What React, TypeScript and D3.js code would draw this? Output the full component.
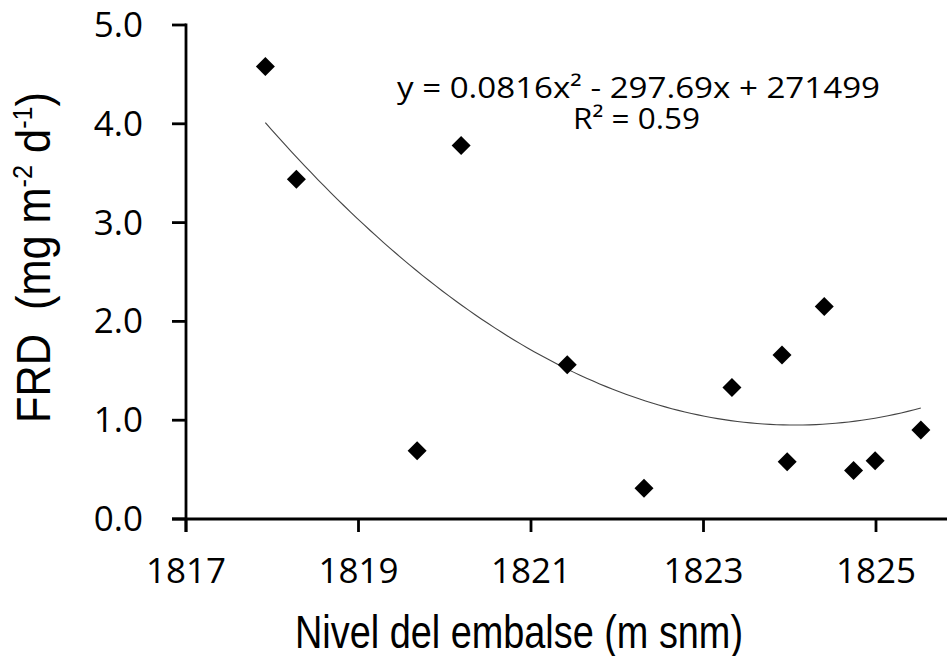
import React from "react";
import * as d3 from "d3";

const nivel: number[] = [1817.92, 1818.28, 1819.68, 1820.19, 1821.42, 1822.31, 1823.33, 1823.91, 1823.97, 1824.40, 1824.74, 1824.99, 1825.52];
const frd: number[] = [4.58, 3.44, 0.69, 3.78, 1.56, 0.31, 1.33, 1.66, 0.58, 2.15, 0.49, 0.59, 0.90];
const xTicks: number[] = [1817, 1819, 1821, 1823, 1825];
const yTicks: number[] = [0, 1, 2, 3, 4, 5];
const equationLabel = "y = 0.0816x² - 297.69x + 271499";
const r2Label = "R² = 0.59";

// least squares quadratic fit (like a spreadsheet trendline)
function quadFit(xs: number[], ys: number[]) {
  const mx = d3.mean(xs) as number;
  const u = xs.map((v) => v - mx);
  const n = xs.length;
  let s1 = 0, s2 = 0, s3 = 0, s4 = 0, t0 = 0, t1 = 0, t2 = 0;
  for (let i = 0; i < n; i++) {
    const a = u[i];
    s1 += a; s2 += a * a; s3 += a * a * a; s4 += a * a * a * a;
    t0 += ys[i]; t1 += a * ys[i]; t2 += a * a * ys[i];
  }
  const M = [
    [n, s1, s2, t0],
    [s1, s2, s3, t1],
    [s2, s3, s4, t2],
  ];
  for (let c = 0; c < 3; c++) {
    let p = c;
    for (let r = c + 1; r < 3; r++) if (Math.abs(M[r][c]) > Math.abs(M[p][c])) p = r;
    [M[c], M[p]] = [M[p], M[c]];
    for (let r = 0; r < 3; r++) {
      if (r === c) continue;
      const f = M[r][c] / M[c][c];
      for (let k = c; k < 4; k++) M[r][k] -= f * M[c][k];
    }
  }
  const c0 = M[0][3] / M[0][0];
  const c1 = M[1][3] / M[1][1];
  const c2 = M[2][3] / M[2][2];
  return (x: number) => {
    const a = x - mx;
    return c0 + c1 * a + c2 * a * a;
  };
}

export default function App() {
  const W = 948, H = 656;
  const x0 = 186, y0 = 519;
  const x = d3.scaleLinear().domain([1817, 1825]).range([x0, 876]);
  const y = d3.scaleLinear().domain([0, 5]).range([y0, 25]);
  const fit = quadFit(nivel, frd);
  const [xmin, xmax] = d3.extent(nivel) as [number, number];
  const curvePts = d3.range(0, 101).map((i) => xmin + ((xmax - xmin) * i) / 100);
  const line = d3.line<number>().x((d) => x(d)).y((d) => y(fit(d)));
  const sym = d3.symbol().type(d3.symbolDiamond2).size(230);
  const tickFont = "'Open Sans', sans-serif";
  const titleFont = "'Liberation Sans', Arial, sans-serif";

  return (
    <svg width={W} height={H} style={{ position: "absolute", left: 0, top: 0, background: "#fff" }}>
      <rect width={W} height={H} fill="#fff" />
      <path d={line(curvePts) || ""} fill="none" stroke="#444" strokeWidth={1.1} />
      <line x1={x0} x2={x0} y1={y(5) - 1.5} y2={y0 + 13} stroke="#000" strokeWidth={2.8} />
      <line x1={x0 - 14} x2={947} y1={y0} y2={y0} stroke="#000" strokeWidth={2.8} />
      {yTicks.map((t) => (
        <g key={"y" + t}>
          <line x1={x0 - 14} x2={x0} y1={y(t)} y2={y(t)} stroke="#000" strokeWidth={2.8} />
          <text x={143} y={y(t) + 12} textAnchor="end" fontFamily={tickFont} fontSize={35} fill="#000">
            {t.toFixed(1)}
          </text>
        </g>
      ))}
      {xTicks.map((t) => (
        <g key={"x" + t}>
          <line x1={x(t)} x2={x(t)} y1={y0} y2={y0 + 13} stroke="#000" strokeWidth={2.8} />
          <text x={x(t)} y={583} textAnchor="middle" fontFamily={tickFont} fontSize={35} fill="#000">
            {t}
          </text>
        </g>
      ))}
      {nivel.map((v, i) => (
        <path key={"p" + i} d={sym() || ""} transform={`translate(${x(v)},${y(frd[i])})`} fill="#000" />
      ))}
      <text x={397} y={98} fontFamily={tickFont} fontSize={29} textLength={483} lengthAdjust="spacingAndGlyphs" fill="#000">
        {equationLabel}
      </text>
      <text x={573} y={129} fontFamily={tickFont} fontSize={29} textLength={127} lengthAdjust="spacingAndGlyphs" fill="#000">
        {r2Label}
      </text>
      <text x={295} y={648} fontFamily={titleFont} fontSize={47} textLength={448} lengthAdjust="spacingAndGlyphs" fill="#000">
        Nivel del embalse (m snm)
      </text>
      <text
        transform="translate(50,423) rotate(-90)"
        x={0}
        y={0}
        fontFamily={titleFont}
        fontSize={48}
        textLength={331}
        lengthAdjust="spacingAndGlyphs"
        fill="#000"
      >
        FRD{"\u00a0\u00a0"}(mg m<tspan fontSize={28} dy={-18}>-2</tspan>
        <tspan dy={18}> d</tspan>
        <tspan fontSize={28} dy={-18}>-1</tspan>
        <tspan dy={18}>)</tspan>
      </text>
    </svg>
  );
}
